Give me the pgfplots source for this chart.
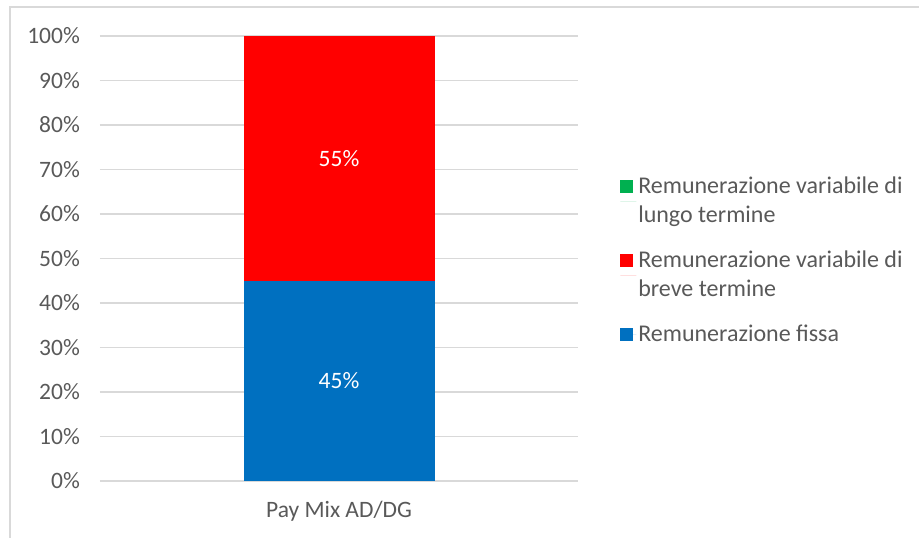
\documentclass[border=0pt]{standalone}
\usepackage{pgfplots}
\pgfplotsset{compat=1.18}
\usepackage{fontspec}
\setmainfont{Carlito}
\definecolor{cblue}{HTML}{0070C0}
\definecolor{cred}{HTML}{FF0000}
\definecolor{cgreen}{HTML}{00B050}
\definecolor{gridgray}{HTML}{D9D9D9}
\definecolor{txtgray}{HTML}{595959}
\pgfplotsset{
  oneline/.style={legend image code/.code={\path (0bp,0bp) -- (16bp,0bp);\fill[##1] (0bp,-6bp) rectangle (13bp,7bp);}},
  twoline/.style={legend image code/.code={\path (0bp,0bp) -- (16bp,0bp);\fill[##1] (0bp,8.5bp) rectangle (13bp,21.5bp);}},
}
\begin{document}
\fontsize{24bp}{29bp}\selectfont
\begin{tikzpicture}[x=1bp,y=1bp]
\clip (-100,-57) rectangle (819,481);
\draw[gridgray, line width=1.5bp] (-90,-100) rectangle (900,474);
\begin{axis}[
  at={(0,0)}, anchor=south west,
  scale only axis, width=478bp, height=445bp,
  xmin=-0.5, xmax=0.5, ymin=0, ymax=100,
  ytick={0,10,...,100},
  yticklabel={\pgfmathprintnumber{\tick}\%},
  xtick={0}, xticklabels={Pay Mix AD/DG},
  axis line style={draw=none},
  major tick length=0pt,
  ymajorgrids, grid style={gridgray, line width=1.5bp},
  tick label style={text=txtgray, font=\fontsize{23.5bp}{28bp}\selectfont, inner sep=0pt},
  /pgf/number format/assume math mode=true,
  yticklabel style={anchor=east, xshift=-20bp},
  xticklabel style={anchor=base, yshift=-37bp},
  ybar stacked, bar width=191bp,
  point meta=explicit,
  every node near coord/.append style={text=white, anchor=center, font=\fontsize{23.5bp}{28bp}\selectfont},
  legend cell align=left,
  reverse legend,
  legend style={draw=none, fill=none, at={(1.088,0.688)}, anchor=north west,
    inner sep=0pt, row sep=20.5bp,
    cells={align=left, text=txtgray, font=\fontsize{24bp}{29bp}\selectfont}},
  oneline,
]
\addplot[fill=cblue, draw=none, nodes near coords={\pgfmathprintnumber{\pgfplotspointmeta}\%}]
  coordinates {(0,45) [45]};
\addplot[fill=cred, draw=none, twoline, nodes near coords={\pgfmathprintnumber{\pgfplotspointmeta}\%}]
  coordinates {(0,55) [55]};
\addplot[fill=cgreen, draw=none, twoline] coordinates {(0,0) [0]};
\legend{Remunerazione fissa, Remunerazione variabile di\\breve termine, Remunerazione variabile di\\lungo termine}
\end{axis}
\end{tikzpicture}
\end{document}
